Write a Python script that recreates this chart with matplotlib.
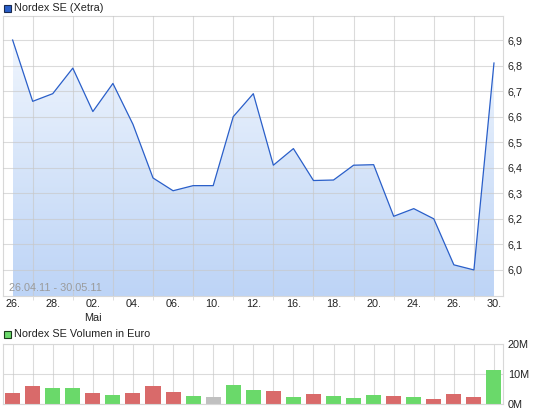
import matplotlib
matplotlib.use("Agg")
import matplotlib.pyplot as plt
import numpy as np
from matplotlib.patches import Rectangle

# 26.04.11 - 30.05.11, Xetra closing prices (EUR)
dates = ["26.04", "27.04", "28.04", "29.04", "02.05", "03.05", "04.05", "05.05",
         "06.05", "09.05", "10.05", "11.05", "12.05", "13.05", "16.05", "17.05",
         "18.05", "19.05", "20.05", "23.05", "24.05", "25.05", "26.05", "27.05",
         "30.05"]
prices = [6.90, 6.66, 6.69, 6.79, 6.62, 6.73, 6.57, 6.36, 6.31, 6.33, 6.33,
          6.60, 6.69, 6.41, 6.475, 6.35, 6.352, 6.41, 6.412, 6.21, 6.24, 6.20,
          6.02, 6.00, 6.81]
volumes_m = [3.6, 5.8, 5.15, 5.15, 3.6, 2.8, 3.6, 5.8, 3.9, 2.45, 2.1, 6.2,
             4.5, 4.1, 2.1, 3.1, 2.45, 1.8, 2.8, 2.45, 2.1, 1.45, 3.1, 2.1, 11.2]
vol_dir = ["down", "down", "up", "up", "down", "up", "down", "down", "down",
           "up", "flat", "up", "up", "down", "up", "down", "up", "up", "up",
           "down", "up", "down", "down", "down", "up"]

tick_idx = [0, 2, 4, 6, 8, 10, 12, 14, 16, 18, 20, 22, 24]
tick_labels = ["26.", "28.", "02.\nMai", "04.", "06.", "10.", "12.", "16.",
               "18.", "20.", "24.", "26.", "30."]
price_ticks = [6.0, 6.1, 6.2, 6.3, 6.4, 6.5, 6.6, 6.7, 6.8, 6.9]
vol_ticks = [0, 10, 20]

GRID = "#c8c8c8"
BORDER = "#d8d8d8"
LINE = "#2a5fc9"
DIR_COLORS = {"up": "#6ad96a", "down": "#d96a6a", "flat": "#c0c0c0"}
FS = 7.8

W, H = 545, 413


def px_axes(fig, left, top, right, bottom):
    return fig.add_axes([left / W, 1 - bottom / H, (right - left) / W, (bottom - top) / H])


def style_frame(ax):
    for s in ax.spines.values():
        s.set_color(BORDER)
        s.set_linewidth(0.8)
    ax.yaxis.tick_right()
    ax.tick_params(axis="y", length=0, pad=3.5, labelsize=FS, colors="#222222")
    ax.tick_params(axis="x", which="both", length=3, color=BORDER, labelsize=FS,
                   colors="#222222", pad=2.5)


def main():
    plt.rcParams["font.family"] = ["Liberation Sans", "DejaVu Sans"]
    fig = plt.figure(figsize=(W / 100, H / 100), dpi=100)
    x = np.arange(len(prices))
    xlim = (-0.48, 24.45)

    # price panel
    ax = px_axes(fig, 3, 16, 503, 296)
    ax.set_xlim(*xlim)
    ax.set_ylim(5.898, 6.994)
    style_frame(ax)

    poly = ax.fill_between(x, prices, 5.898, color="none", lw=0)
    grad = np.linspace(0, 1, 256).reshape(-1, 1)
    cmap = matplotlib.colors.LinearSegmentedColormap.from_list(
        "fill", ["#bdd4f6", "#eff5fd"])
    img = ax.imshow(grad, cmap=cmap, aspect="auto", origin="lower",
                    extent=[0, 24, 5.898, 6.90], zorder=1)
    img.set_clip_path(poly.get_paths()[0], transform=ax.transData)
    ax.plot(x, prices, color=LINE, lw=0.9, zorder=4)

    ax.set_yticks(price_ticks)
    ax.set_yticklabels([f"{v:.1f}".replace(".", ",") for v in price_ticks])
    ax.set_xticks(tick_idx)
    ax.set_xticklabels(tick_labels, linespacing=1.5, va="top")
    ax.set_xticks(x, minor=True)
    ax.tick_params(axis="x", which="major", length=0)
    ax.grid(True, which="minor", axis="x", color=GRID, lw=0.8, alpha=0.65, zorder=3)
    ax.grid(True, which="major", axis="y", color=GRID, lw=0.8, alpha=0.65, zorder=3)
    ax.set_axisbelow(False)
    ax.text(0.012, 0.012, "26.04.11 - 30.05.11", transform=ax.transAxes,
            fontsize=FS, color="#9a9a9a", ha="left", va="bottom", zorder=5)

    # volume panel
    vax = px_axes(fig, 3, 344, 503, 403.5)
    vax.set_xlim(*xlim)
    vax.set_ylim(0, 20)
    style_frame(vax)
    vax.bar(x, volumes_m, width=0.75, color=[DIR_COLORS[d] for d in vol_dir],
            zorder=2)
    vax.set_yticks(vol_ticks)
    vax.set_yticklabels([f"{v}M" for v in vol_ticks])
    vax.set_xticks(x)
    vax.set_xticklabels([])
    vax.tick_params(axis="x", length=0)
    vax.grid(True, axis="both", color=GRID, lw=0.8, alpha=0.65, zorder=0)
    vax.set_axisbelow(True)

    # legends
    fig.patches.append(Rectangle((4 / W, 1 - 12 / H), 7 / W, 7 / H, transform=fig.transFigure,
                                 facecolor="#2a5fc9", edgecolor="#1a2a50", lw=0.8))
    fig.text(14 / W, 1 - 8 / H, "Nordex SE (Xetra)", fontsize=FS, va="center",
             color="#222222")
    fig.patches.append(Rectangle((4 / W, 1 - 338 / H), 7 / W, 7 / H, transform=fig.transFigure,
                                 facecolor="#6ad96a", edgecolor="#1a3a1a", lw=0.8))
    fig.text(14 / W, 1 - 334 / H, "Nordex SE Volumen in Euro", fontsize=FS,
             va="center", color="#222222")

    fig.savefig("out.png", dpi=100)


if __name__ == "__main__":
    main()
